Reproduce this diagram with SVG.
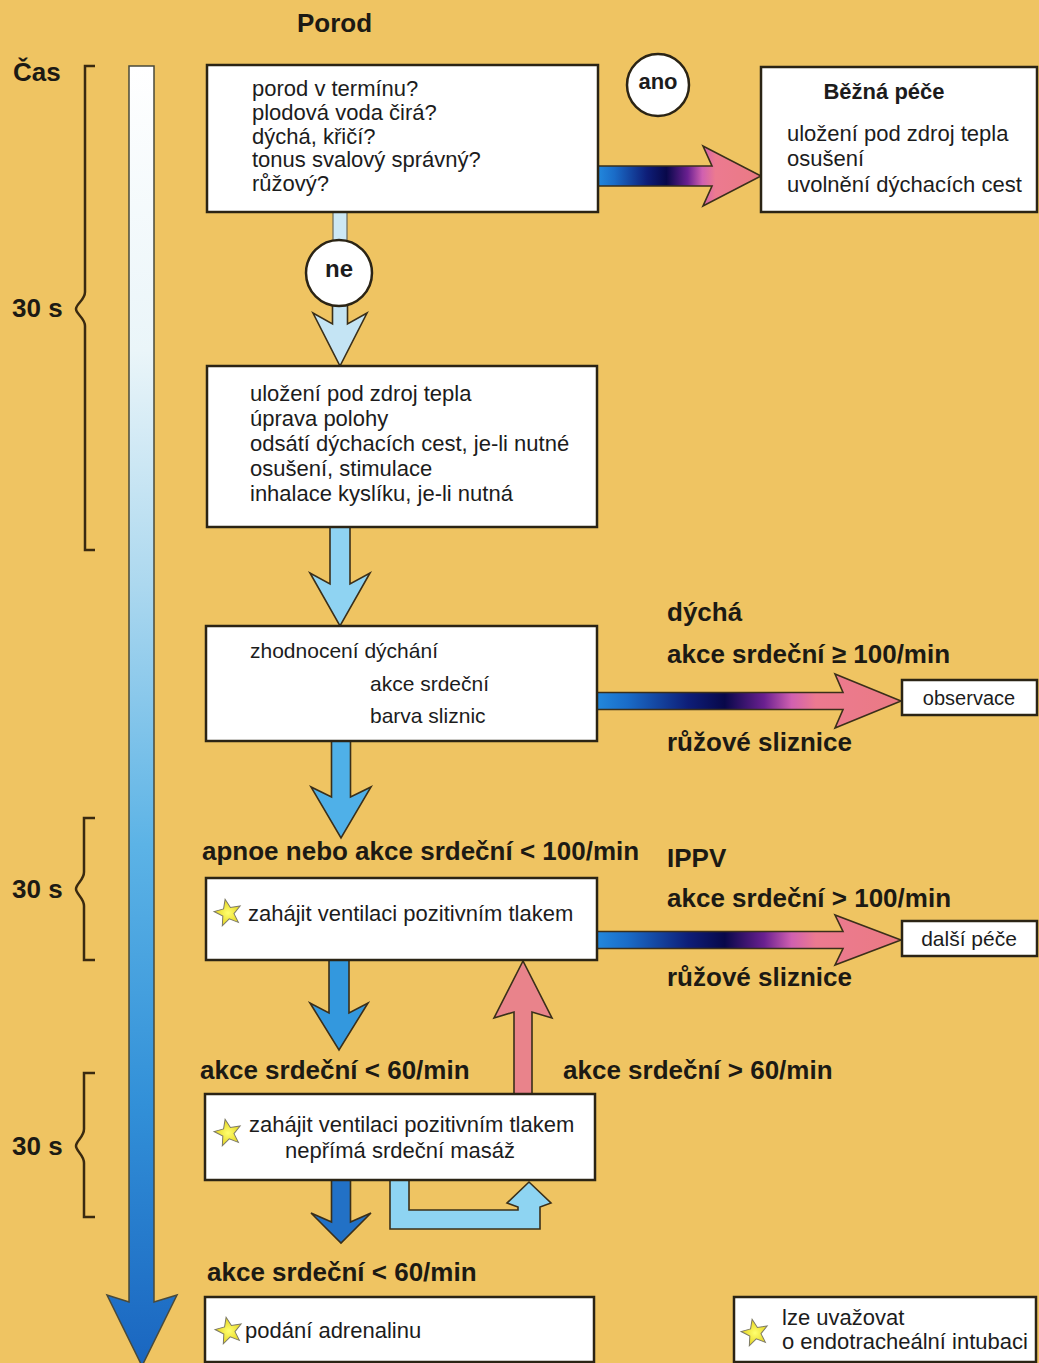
<svg xmlns="http://www.w3.org/2000/svg" width="1039" height="1363" viewBox="0 0 1039 1363">
  <defs>
    <style>
      .box { fill: #ffffff; stroke: #2b2415; stroke-width: 2.5; }
      .t { font-family: "Liberation Sans", Arial, sans-serif; font-size: 22px; fill: #1c1c1c; }
      .b { font-family: "Liberation Sans", Arial, sans-serif; font-size: 26px; font-weight: bold; fill: #1c1a14; }
      .arr { stroke: #3a2f1a; stroke-width: 1.6; stroke-linejoin: miter; }
      .brk { fill: none; stroke: #3a2a10; stroke-width: 2.5; }
      .star { stroke: #7d7a66; stroke-width: 1; fill: url(#starG); }
    </style>
    <linearGradient id="timeG" gradientUnits="userSpaceOnUse" x1="0" y1="66" x2="0" y2="1363">
      <stop offset="0" stop-color="#ffffff"/>
      <stop offset="0.22" stop-color="#eaf5f9"/>
      <stop offset="0.4" stop-color="#acd8ef"/>
      <stop offset="0.6" stop-color="#5cb3e6"/>
      <stop offset="0.8" stop-color="#3290d8"/>
      <stop offset="1" stop-color="#1a66c0"/>
    </linearGradient>
    <linearGradient id="hG" x1="0" y1="0" x2="1" y2="0">
      <stop offset="0" stop-color="#2288dd"/>
      <stop offset="0.1" stop-color="#1a6cc8"/>
      <stop offset="0.3" stop-color="#0e1e78"/>
      <stop offset="0.42" stop-color="#08084a"/>
      <stop offset="0.55" stop-color="#6a2090"/>
      <stop offset="0.64" stop-color="#d060b0"/>
      <stop offset="0.72" stop-color="#ec7a90"/>
      <stop offset="1" stop-color="#ea7a84"/>
    </linearGradient>
    <radialGradient id="starG" cx="0.5" cy="0.55" r="0.5">
      <stop offset="0" stop-color="#ffff70"/>
      <stop offset="1" stop-color="#e6d622"/>
    </radialGradient>
    <path id="star" class="star" d="M0,-14 L3.5,-4.9 L13.3,-4.3 L5.7,1.9 L8.2,11.3 L0,6 L-8.2,11.3 L-5.7,1.9 L-13.3,-4.3 L-3.5,-4.9 Z" transform="rotate(-12)"/>
  </defs>

  <rect x="0" y="0" width="1039" height="1363" fill="#EFC462"/>

  <!-- time axis -->
  <g id="time">
    <polygon points="129,66 154,66 154,1302 177,1295 142,1366 107,1295 129,1302" fill="url(#timeG)" stroke="#4a4a3a" stroke-width="1.5"/>
    <text class="b" x="13" y="81">Čas</text>
    <path class="brk" d="M95,66 H85 V292 C85,300 76,304 76,309 C76,314 85,318 85,326 V550 H95"/>
    <text class="b" x="12" y="317">30 s</text>
    <path class="brk" d="M95,818 H84 V872 C84,880 76,884 76,889 C76,894 84,898 84,906 V960 H95"/>
    <text class="b" x="12" y="898">30 s</text>
    <path class="brk" d="M95,1073 H84 V1129 C84,1137 76,1141 76,1146 C76,1151 84,1155 84,1163 V1217 H95"/>
    <text class="b" x="12" y="1155">30 s</text>
  </g>

  <text class="b" x="297" y="32">Porod</text>

  <!-- connectors -->
  <g id="connectors">
    <rect x="333" y="212" width="14" height="30" fill="#CDE8F4" stroke="#6a6a5a" stroke-width="1.2"/>
    <polygon class="arr" fill="#C4E4F4" points="332.5,305 347.5,305 347.5,324 367,313 340,366 313,313 332.5,324"/>
    <polygon class="arr" fill="#8FD3F2" points="330,527 350,527 350,584 370,573 340,626 310,573 330,584"/>
    <polygon class="arr" fill="#4FB0E8" points="331.5,741 350.5,741 350.5,797 371,787 341,838 311,787 331.5,797"/>
    <polygon class="arr" fill="#3398DE" points="329,960 349,960 349,1013 368,1003 339,1050 310,1003 329,1013"/>
    <polygon class="arr" fill="#2271C6" points="331.5,1180 350.5,1180 350.5,1222 371,1213 341,1243 311,1213 331.5,1222"/>
    <polygon class="arr" fill="#E9838B" points="514,1094 532,1094 532,1012 552,1018 523,961 494,1018 514,1012"/>
    <polygon class="arr" fill="#8ED4F2" points="390,1180 390,1229 540,1229 540,1207 551,1203 529,1182 507,1203 518,1207 518,1210 409,1210 409,1180"/>
    <polygon class="arr" fill="url(#hG)" points="598,166 712,166 703,146 761,176 703,206 712,186 598,186"/>
    <polygon class="arr" fill="url(#hG)" points="597,692.5 843,692.5 835,674 901,701 835,728 843,709.5 597,709.5"/>
    <polygon class="arr" fill="url(#hG)" points="597,931.5 843,931.5 835,915 901,940 835,965 843,948.5 597,948.5"/>
  </g>

  <!-- labels on connectors -->
  <g id="labels">
    <text class="b" x="667" y="621">dýchá</text>
    <text class="b" x="667" y="663">akce srdeční ≥ 100/min</text>
    <text class="b" x="667" y="751">růžové sliznice</text>
    <text class="b" x="202" y="860">apnoe nebo akce srdeční &lt; 100/min</text>
    <text class="b" x="667" y="867">IPPV</text>
    <text class="b" x="667" y="907">akce srdeční &gt; 100/min</text>
    <text class="b" x="667" y="986">růžové sliznice</text>
    <text class="b" x="200" y="1079">akce srdeční &lt; 60/min</text>
    <text class="b" x="563" y="1079">akce srdeční &gt; 60/min</text>
    <text class="b" x="207" y="1281">akce srdeční &lt; 60/min</text>
  </g>

  <g id="n_start">
    <rect class="box" x="207" y="65" width="391" height="147"/>
    <text class="t" x="252" y="96">porod v termínu?</text>
    <text class="t" x="252" y="120">plodová voda čirá?</text>
    <text class="t" x="252" y="143.5">dýchá, křičí?</text>
    <text class="t" x="252" y="167">tonus svalový správný?</text>
    <text class="t" x="252" y="191">růžový?</text>
  </g>

  <g id="n_ano">
    <circle cx="658" cy="85" r="31" fill="#ffffff" stroke="#2b2415" stroke-width="2.5"/>
    <text class="t" x="658" y="89" text-anchor="middle" style="font-weight:bold">ano</text>
  </g>

  <g id="n_bezna">
    <rect class="box" x="761" y="67" width="276" height="145"/>
    <text class="t" x="884" y="99" text-anchor="middle" style="font-weight:bold">Běžná péče</text>
    <text class="t" x="787" y="141">uložení pod zdroj tepla</text>
    <text class="t" x="787" y="166">osušení</text>
    <text class="t" x="787" y="192">uvolnění dýchacích cest</text>
  </g>

  <g id="n_ne">
    <circle cx="339" cy="273" r="33" fill="#ffffff" stroke="#2b2415" stroke-width="2.5"/>
    <text class="t" x="339" y="277" text-anchor="middle" style="font-weight:bold;font-size:24px">ne</text>
  </g>

  <g id="n_steps">
    <rect class="box" x="207" y="366" width="390" height="161"/>
    <text class="t" x="250" y="401">uložení pod zdroj tepla</text>
    <text class="t" x="250" y="426">úprava polohy</text>
    <text class="t" x="250" y="451">odsátí dýchacích cest, je-li nutné</text>
    <text class="t" x="250" y="476">osušení, stimulace</text>
    <text class="t" x="250" y="501">inhalace kyslíku, je-li nutná</text>
  </g>

  <g id="n_eval">
    <rect class="box" x="206" y="626" width="391" height="115"/>
    <text class="t" x="250" y="658" style="font-size:21px">zhodnocení dýchání</text>
    <text class="t" x="370" y="691" style="font-size:21px">akce srdeční</text>
    <text class="t" x="370" y="723" style="font-size:21px">barva sliznic</text>
  </g>

  <g id="n_obs">
    <rect class="box" x="902" y="680" width="135" height="35"/>
    <text class="t" x="969" y="705" text-anchor="middle" style="font-size:20px">observace</text>
  </g>

  <g id="n_ippv">
    <rect class="box" x="206" y="878" width="391" height="82"/>
    <use href="#star" x="228" y="913"/>
    <text class="t" x="248" y="921">zahájit ventilaci pozitivním tlakem</text>
  </g>

  <g id="n_dalsi">
    <rect class="box" x="902" y="921" width="135" height="35"/>
    <text class="t" x="969" y="946" text-anchor="middle" style="font-size:21px">další péče</text>
  </g>

  <g id="n_cpr">
    <rect class="box" x="205" y="1094" width="390" height="86"/>
    <use href="#star" x="228" y="1133"/>
    <text class="t" x="249" y="1132">zahájit ventilaci pozitivním tlakem</text>
    <text class="t" x="400" y="1158" text-anchor="middle">nepřímá srdeční masáž</text>
  </g>

  <g id="n_adrenalin">
    <rect class="box" x="205" y="1297" width="389" height="65"/>
    <use href="#star" x="229" y="1331"/>
    <text class="t" x="245" y="1338">podání adrenalinu</text>
  </g>

  <g id="n_legend">
    <rect class="box" x="734" y="1297" width="302" height="65"/>
    <use href="#star" x="755" y="1333"/>
    <text class="t" x="782" y="1325">lze uvažovat</text>
    <text class="t" x="782" y="1349">o endotracheální intubaci</text>
  </g>
</svg>
